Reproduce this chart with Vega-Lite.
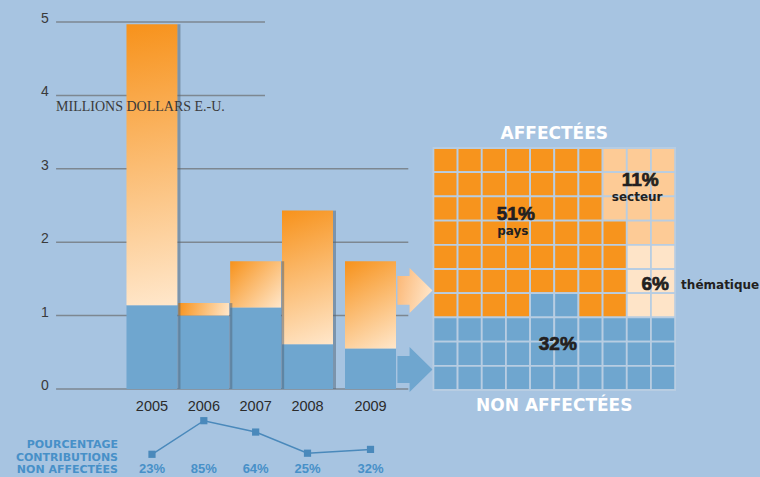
{
  "$schema": "https://vega.github.io/schema/vega-lite/v6.json",
  "width": 760,
  "height": 477,
  "autosize": {"type": "fit", "contains": "padding"},
  "padding": 0,
  "background": "#a7c4e1",
  "config": {"view": {"stroke": null}, "text": {"font": "Liberation Sans"}, "scale": {"continuousPadding": 0}},
  "datasets": {
    "bars": [
      {"year": 2005, "total": 4.97, "non_affectees": 1.14, "pct": 0.23},
      {"year": 2006, "total": 1.17, "non_affectees": 1.00, "pct": 0.85},
      {"year": 2007, "total": 1.74, "non_affectees": 1.11, "pct": 0.64},
      {"year": 2008, "total": 2.43, "non_affectees": 0.61, "pct": 0.25},
      {"year": 2009, "total": 1.74, "non_affectees": 0.55, "pct": 0.32}
    ],
    "grid": [{"v": 0}, {"v": 1}, {"v": 2}, {"v": 3}, {"v": 4}, {"v": 5}],
    "waffle": [
      {"c":1,"r":1,"cat":"pays"},{"c":2,"r":1,"cat":"pays"},{"c":3,"r":1,"cat":"pays"},{"c":4,"r":1,"cat":"pays"},{"c":5,"r":1,"cat":"pays"},{"c":6,"r":1,"cat":"pays"},{"c":7,"r":1,"cat":"pays"},{"c":8,"r":1,"cat":"secteur"},{"c":9,"r":1,"cat":"secteur"},{"c":10,"r":1,"cat":"secteur"},
      {"c":1,"r":2,"cat":"pays"},{"c":2,"r":2,"cat":"pays"},{"c":3,"r":2,"cat":"pays"},{"c":4,"r":2,"cat":"pays"},{"c":5,"r":2,"cat":"pays"},{"c":6,"r":2,"cat":"pays"},{"c":7,"r":2,"cat":"pays"},{"c":8,"r":2,"cat":"secteur"},{"c":9,"r":2,"cat":"secteur"},{"c":10,"r":2,"cat":"secteur"},
      {"c":1,"r":3,"cat":"pays"},{"c":2,"r":3,"cat":"pays"},{"c":3,"r":3,"cat":"pays"},{"c":4,"r":3,"cat":"pays"},{"c":5,"r":3,"cat":"pays"},{"c":6,"r":3,"cat":"pays"},{"c":7,"r":3,"cat":"pays"},{"c":8,"r":3,"cat":"secteur"},{"c":9,"r":3,"cat":"secteur"},{"c":10,"r":3,"cat":"secteur"},
      {"c":1,"r":4,"cat":"pays"},{"c":2,"r":4,"cat":"pays"},{"c":3,"r":4,"cat":"pays"},{"c":4,"r":4,"cat":"pays"},{"c":5,"r":4,"cat":"pays"},{"c":6,"r":4,"cat":"pays"},{"c":7,"r":4,"cat":"pays"},{"c":8,"r":4,"cat":"pays"},{"c":9,"r":4,"cat":"secteur"},{"c":10,"r":4,"cat":"secteur"},
      {"c":1,"r":5,"cat":"pays"},{"c":2,"r":5,"cat":"pays"},{"c":3,"r":5,"cat":"pays"},{"c":4,"r":5,"cat":"pays"},{"c":5,"r":5,"cat":"pays"},{"c":6,"r":5,"cat":"pays"},{"c":7,"r":5,"cat":"pays"},{"c":8,"r":5,"cat":"pays"},{"c":9,"r":5,"cat":"thématique"},{"c":10,"r":5,"cat":"thématique"},
      {"c":1,"r":6,"cat":"pays"},{"c":2,"r":6,"cat":"pays"},{"c":3,"r":6,"cat":"pays"},{"c":4,"r":6,"cat":"pays"},{"c":5,"r":6,"cat":"pays"},{"c":6,"r":6,"cat":"pays"},{"c":7,"r":6,"cat":"pays"},{"c":8,"r":6,"cat":"pays"},{"c":9,"r":6,"cat":"thématique"},{"c":10,"r":6,"cat":"thématique"},
      {"c":1,"r":7,"cat":"pays"},{"c":2,"r":7,"cat":"pays"},{"c":3,"r":7,"cat":"pays"},{"c":4,"r":7,"cat":"pays"},{"c":5,"r":7,"cat":"non affectées"},{"c":6,"r":7,"cat":"non affectées"},{"c":7,"r":7,"cat":"pays"},{"c":8,"r":7,"cat":"pays"},{"c":9,"r":7,"cat":"thématique"},{"c":10,"r":7,"cat":"thématique"},
      {"c":1,"r":8,"cat":"non affectées"},{"c":2,"r":8,"cat":"non affectées"},{"c":3,"r":8,"cat":"non affectées"},{"c":4,"r":8,"cat":"non affectées"},{"c":5,"r":8,"cat":"non affectées"},{"c":6,"r":8,"cat":"non affectées"},{"c":7,"r":8,"cat":"non affectées"},{"c":8,"r":8,"cat":"non affectées"},{"c":9,"r":8,"cat":"non affectées"},{"c":10,"r":8,"cat":"non affectées"},
      {"c":1,"r":9,"cat":"non affectées"},{"c":2,"r":9,"cat":"non affectées"},{"c":3,"r":9,"cat":"non affectées"},{"c":4,"r":9,"cat":"non affectées"},{"c":5,"r":9,"cat":"non affectées"},{"c":6,"r":9,"cat":"non affectées"},{"c":7,"r":9,"cat":"non affectées"},{"c":8,"r":9,"cat":"non affectées"},{"c":9,"r":9,"cat":"non affectées"},{"c":10,"r":9,"cat":"non affectées"},
      {"c":1,"r":10,"cat":"non affectées"},{"c":2,"r":10,"cat":"non affectées"},{"c":3,"r":10,"cat":"non affectées"},{"c":4,"r":10,"cat":"non affectées"},{"c":5,"r":10,"cat":"non affectées"},{"c":6,"r":10,"cat":"non affectées"},{"c":7,"r":10,"cat":"non affectées"},{"c":8,"r":10,"cat":"non affectées"},{"c":9,"r":10,"cat":"non affectées"},{"c":10,"r":10,"cat":"non affectées"}
    ]
  },
  "layer": [
    {
      "layer": [
        {
          "data": {"name": "grid"},
          "transform": [{"filter": "datum.v <= 3"}],
          "mark": {"type": "rule", "color": "#7d8791", "strokeWidth": 1.5},
          "encoding": {
            "x": {"datum": 2003.15, "type": "quantitative", "axis": null, "scale": {"type": "linear", "domain": [2003, 2008, 2010], "range": [48.3, 307.5, 433.5], "nice": false, "zero": false, "padding": 0}},
            "x2": {"datum": 2009.6},
            "y": {"field": "v", "type": "quantitative", "axis": null, "scale": {"domain": [-1.2, 5.3], "nice": false, "zero": false, "padding": 0}}
          }
        },
        {
          "data": {"name": "grid"},
          "transform": [{"filter": "datum.v >= 4"}],
          "mark": {"type": "rule", "color": "#7d8791", "strokeWidth": 1.5},
          "encoding": {
            "x": {"datum": 2003.15, "type": "quantitative", "axis": null, "scale": {"type": "linear", "domain": [2003, 2008, 2010], "range": [48.3, 307.5, 433.5], "nice": false, "zero": false, "padding": 0}},
            "x2": {"datum": 2007.18},
            "y": {"field": "v", "type": "quantitative", "axis": null, "scale": {"domain": [-1.2, 5.3], "nice": false, "zero": false, "padding": 0}}
          }
        },
        {
          "data": {"name": "grid"},
          "mark": {"type": "text", "align": "right", "baseline": "alphabetic", "fontSize": 14, "color": "#3a3a3a", "dy": 1},
          "encoding": {
            "x": {"datum": 2003.01, "type": "quantitative", "axis": null, "scale": {"type": "linear", "domain": [2003, 2008, 2010], "range": [48.3, 307.5, 433.5], "nice": false, "zero": false, "padding": 0}},
            "y": {"field": "v", "type": "quantitative", "axis": null, "scale": {"domain": [-1.2, 5.3], "nice": false, "zero": false, "padding": 0}},
            "text": {"field": "v", "type": "quantitative", "format": "d"}
          }
        },
        {
          "data": {"name": "bars"},
          "mark": {"type": "bar", "orient": "vertical", "width": 51, "color": "#6fa6cf"},
          "encoding": {
            "x": {"field": "year", "type": "quantitative", "axis": null, "scale": {"type": "linear", "domain": [2003, 2008, 2010], "range": [48.3, 307.5, 433.5], "nice": false, "zero": false, "padding": 0}},
            "y": {"field": "non_affectees", "type": "quantitative", "axis": null, "scale": {"domain": [-1.2, 5.3], "nice": false, "zero": false, "padding": 0}},
            "y2": {"datum": 0}
          }
        },
        {
          "data": {"name": "bars"},
          "mark": {"type": "bar", "orient": "vertical", "width": 51},
          "encoding": {
            "x": {"field": "year", "type": "quantitative", "axis": null, "scale": {"type": "linear", "domain": [2003, 2008, 2010], "range": [48.3, 307.5, 433.5], "nice": false, "zero": false, "padding": 0}},
            "y": {"field": "total", "type": "quantitative", "axis": null, "scale": {"domain": [-1.2, 5.3], "nice": false, "zero": false, "padding": 0}},
            "y2": {"field": "non_affectees"},
            "fill": {
              "condition": [
                {"test": "datum.year == 2005", "value": {"gradient": "linear", "x1": 0, "y1": 0, "x2": 0.034, "y2": 1.03, "stops": [{"offset": 0, "color": "#f7921b"}, {"offset": 1, "color": "#ffe7cb"}]}},
                {"test": "datum.year == 2006", "value": {"gradient": "linear", "x1": 0, "y1": 0, "x2": 1.056, "y2": 0.063, "stops": [{"offset": 0, "color": "#f7921b"}, {"offset": 1, "color": "#ffe7cb"}]}},
                {"test": "datum.year == 2007", "value": {"gradient": "linear", "x1": 0, "y1": 0, "x2": 1.09, "y2": 0.89, "stops": [{"offset": 0, "color": "#f7921b"}, {"offset": 1, "color": "#ffe7cb"}]}},
                {"test": "datum.year == 2008", "value": {"gradient": "linear", "x1": 0, "y1": 0, "x2": 0.16, "y2": 1.12, "stops": [{"offset": 0, "color": "#f7921b"}, {"offset": 1, "color": "#ffe7cb"}]}}
              ],
              "value": {"gradient": "linear", "x1": 0, "y1": 0, "x2": 0.41, "y2": 1.2, "stops": [{"offset": 0, "color": "#f7921b"}, {"offset": 1, "color": "#ffe7cb"}]}
            }
          }
        },
        {
          "data": {"name": "bars"},
          "transform": [{"filter": "datum.year < 2009"}],
          "mark": {"type": "bar", "orient": "vertical", "width": 3, "xOffset": 27, "color": "#4f6377", "opacity": 0.5},
          "encoding": {
            "x": {"field": "year", "type": "quantitative", "axis": null, "scale": {"type": "linear", "domain": [2003, 2008, 2010], "range": [48.3, 307.5, 433.5], "nice": false, "zero": false, "padding": 0}},
            "y": {"field": "total", "type": "quantitative", "axis": null, "scale": {"domain": [-1.2, 5.3], "nice": false, "zero": false, "padding": 0}},
            "y2": {"datum": 0}
          }
        },
        {
          "data": {"name": "bars"},
          "mark": {"type": "text", "align": "center", "baseline": "alphabetic", "fontSize": 14.5, "color": "#2b2b2b"},
          "encoding": {
            "x": {"field": "year", "type": "quantitative", "axis": null, "scale": {"type": "linear", "domain": [2003, 2008, 2010], "range": [48.3, 307.5, 433.5], "nice": false, "zero": false, "padding": 0}},
            "y": {"datum": -0.3, "type": "quantitative", "axis": null, "scale": {"domain": [-1.2, 5.3], "nice": false, "zero": false, "padding": 0}},
            "text": {"field": "year", "type": "quantitative", "format": "d"}
          }
        },
        {
          "data": {"values": [{"part": "affectées"}]},
          "mark": {"type": "point", "shape": "M-0.78,-0.64L-0.24,-0.64L-0.24,-1L0.78,0L-0.24,1L-0.24,0.64L-0.78,0.64Z", "size": 2025, "filled": true, "opacity": 1, "strokeWidth": 0,
                   "fill": {"gradient": "linear", "x1": 0, "y1": 0, "x2": 1, "y2": 0.3, "stops": [{"offset": 0, "color": "#fbb673"}, {"offset": 1, "color": "#ffe3c4"}]}},
          "encoding": {
            "x": {"datum": 2009.706, "type": "quantitative", "axis": null, "scale": {"type": "linear", "domain": [2003, 2008, 2010], "range": [48.3, 307.5, 433.5], "nice": false, "zero": false, "padding": 0}},
            "y": {"datum": 1.342, "type": "quantitative", "axis": null, "scale": {"domain": [-1.2, 5.3], "nice": false, "zero": false, "padding": 0}}
          }
        },
        {
          "data": {"values": [{"part": "non affectées"}]},
          "mark": {"type": "point", "shape": "M-0.78,-0.6L-0.24,-0.6L-0.24,-1L0.78,0L-0.24,1L-0.24,0.6L-0.78,0.6Z", "size": 2025, "filled": true, "opacity": 1, "strokeWidth": 0, "fill": "#6fa6cf"},
          "encoding": {
            "x": {"datum": 2009.706, "type": "quantitative", "axis": null, "scale": {"type": "linear", "domain": [2003, 2008, 2010], "range": [48.3, 307.5, 433.5], "nice": false, "zero": false, "padding": 0}},
            "y": {"datum": 0.266, "type": "quantitative", "axis": null, "scale": {"domain": [-1.2, 5.3], "nice": false, "zero": false, "padding": 0}}
          }
        },
        {
          "data": {"values": [{"label": "MILLIONS DOLLARS E.-U."}]},
          "mark": {"type": "text", "align": "left", "baseline": "alphabetic", "font": "Liberation Serif", "fontSize": 14, "color": "#3a3a3a"},
          "encoding": {
            "x": {"datum": 2003.15, "type": "quantitative", "axis": null, "scale": {"type": "linear", "domain": [2003, 2008, 2010], "range": [48.3, 307.5, 433.5], "nice": false, "zero": false, "padding": 0}},
            "y": {"datum": 3.792, "type": "quantitative", "axis": null, "scale": {"domain": [-1.2, 5.3], "nice": false, "zero": false, "padding": 0}},
            "text": {"field": "label"}
          }
        }
      ]
    },
    {
      "layer": [
        {
          "data": {"name": "bars"},
          "mark": {"type": "line", "color": "#4a89bb", "strokeWidth": 1.5},
          "encoding": {
            "x": {"field": "year", "type": "quantitative", "axis": null, "scale": {"type": "linear", "domain": [2003, 2008, 2010], "range": [48.3, 307.5, 433.5], "nice": false, "zero": false, "padding": 0}},
            "y": {"field": "pct", "type": "quantitative", "axis": null, "scale": {"domain": [-0.189, 8.611], "nice": false, "zero": false, "padding": 0}}
          }
        },
        {
          "data": {"name": "bars"},
          "mark": {"type": "square", "size": 52, "color": "#4a89bb", "opacity": 1},
          "encoding": {
            "x": {"field": "year", "type": "quantitative", "axis": null, "scale": {"type": "linear", "domain": [2003, 2008, 2010], "range": [48.3, 307.5, 433.5], "nice": false, "zero": false, "padding": 0}},
            "y": {"field": "pct", "type": "quantitative", "axis": null, "scale": {"domain": [-0.189, 8.611], "nice": false, "zero": false, "padding": 0}}
          }
        },
        {
          "data": {"name": "bars"},
          "mark": {"type": "text", "align": "center", "baseline": "alphabetic", "fontSize": 13, "fontWeight": "bold", "color": "#4790c8"},
          "encoding": {
            "x": {"field": "year", "type": "quantitative", "axis": null, "scale": {"type": "linear", "domain": [2003, 2008, 2010], "range": [48.3, 307.5, 433.5], "nice": false, "zero": false, "padding": 0}},
            "y": {"datum": -0.115, "type": "quantitative", "axis": null, "scale": {"domain": [-0.189, 8.611], "nice": false, "zero": false, "padding": 0}},
            "text": {"field": "pct", "type": "quantitative", "format": ".0%"}
          }
        },
        {
          "data": {"values": [{"label": "pourcentage"}]},
          "mark": {"type": "text", "align": "right", "baseline": "alphabetic", "font": "DejaVu Sans", "fontSize": 11, "fontWeight": "bold", "color": "#4790c8", "lineHeight": 12.5,
                   "text": ["POURCENTAGE", "CONTRIBUTIONS", "NON AFFECTÉES"]},
          "encoding": {
            "x": {"datum": 2004.345, "type": "quantitative", "axis": null, "scale": {"type": "linear", "domain": [2003, 2008, 2010], "range": [48.3, 307.5, 433.5], "nice": false, "zero": false, "padding": 0}},
            "y": {"datum": 0.3405, "type": "quantitative", "axis": null, "scale": {"domain": [-0.189, 8.611], "nice": false, "zero": false, "padding": 0}}
          }
        }
      ]
    },
    {
      "layer": [
        {
          "data": {"name": "waffle"},
          "mark": {"type": "point", "shape": "square", "filled": true, "size": 585, "stroke": "#b8cde2", "strokeWidth": 1.8, "opacity": 1},
          "encoding": {
            "x": {"field": "c", "type": "quantitative", "axis": null, "scale": {"domain": [-17.434, 13.971], "nice": false, "zero": false, "padding": 0}},
            "y": {"field": "r", "type": "quantitative", "axis": null, "scale": {"domain": [-5.616, 14.095], "nice": false, "zero": false, "reverse": true, "padding": 0}},
            "fill": {"field": "cat", "type": "nominal", "legend": null, "scale": {"domain": ["pays", "secteur", "thématique", "non affectées"], "range": ["#f7941d", "#fdcb96", "#fee4c8", "#6fa6cf"]}}
          }
        },
        {
          "data": {"values": [{"label": "51%"}]},
          "mark": {"type": "text", "align": "center", "baseline": "alphabetic", "fontSize": 19, "fontWeight": "bold", "color": "#231f20", "stroke": "#231f20", "strokeWidth": 0.7},
          "encoding": {
            "x": {"datum": 3.909, "type": "quantitative", "axis": null, "scale": {"domain": [-17.434, 13.971], "nice": false, "zero": false, "padding": 0}},
            "y": {"datum": 3.46, "type": "quantitative", "axis": null, "scale": {"domain": [-5.616, 14.095], "nice": false, "zero": false, "reverse": true, "padding": 0}},
            "text": {"field": "label"}
          }
        },
        {
          "data": {"values": [{"label": "pays"}]},
          "mark": {"type": "text", "align": "center", "baseline": "alphabetic", "font": "DejaVu Sans", "fontSize": 12, "fontWeight": "bold", "color": "#231f20"},
          "encoding": {
            "x": {"datum": 3.785, "type": "quantitative", "axis": null, "scale": {"domain": [-17.434, 13.971], "nice": false, "zero": false, "padding": 0}},
            "y": {"datum": 4.1, "type": "quantitative", "axis": null, "scale": {"domain": [-5.616, 14.095], "nice": false, "zero": false, "reverse": true, "padding": 0}},
            "text": {"field": "label"}
          }
        },
        {
          "data": {"values": [{"label": "11%"}]},
          "mark": {"type": "text", "align": "center", "baseline": "alphabetic", "fontSize": 19, "fontWeight": "bold", "color": "#231f20", "stroke": "#231f20", "strokeWidth": 0.7},
          "encoding": {
            "x": {"datum": 9.054, "type": "quantitative", "axis": null, "scale": {"domain": [-17.434, 13.971], "nice": false, "zero": false, "padding": 0}},
            "y": {"datum": 2.07, "type": "quantitative", "axis": null, "scale": {"domain": [-5.616, 14.095], "nice": false, "zero": false, "reverse": true, "padding": 0}},
            "text": {"field": "label"}
          }
        },
        {
          "data": {"values": [{"label": "secteur"}]},
          "mark": {"type": "text", "align": "center", "baseline": "alphabetic", "font": "DejaVu Sans", "fontSize": 12, "fontWeight": "bold", "color": "#231f20"},
          "encoding": {
            "x": {"datum": 8.93, "type": "quantitative", "axis": null, "scale": {"domain": [-17.434, 13.971], "nice": false, "zero": false, "padding": 0}},
            "y": {"datum": 2.69, "type": "quantitative", "axis": null, "scale": {"domain": [-5.616, 14.095], "nice": false, "zero": false, "reverse": true, "padding": 0}},
            "text": {"field": "label"}
          }
        },
        {
          "data": {"values": [{"label": "6%"}]},
          "mark": {"type": "text", "align": "center", "baseline": "alphabetic", "fontSize": 19, "fontWeight": "bold", "color": "#231f20", "stroke": "#231f20", "strokeWidth": 0.7},
          "encoding": {
            "x": {"datum": 9.674, "type": "quantitative", "axis": null, "scale": {"domain": [-17.434, 13.971], "nice": false, "zero": false, "padding": 0}},
            "y": {"datum": 6.368, "type": "quantitative", "axis": null, "scale": {"domain": [-5.616, 14.095], "nice": false, "zero": false, "reverse": true, "padding": 0}},
            "text": {"field": "label"}
          }
        },
        {
          "data": {"values": [{"label": "thématique"}]},
          "mark": {"type": "text", "align": "left", "baseline": "alphabetic", "font": "DejaVu Sans", "fontSize": 12, "fontWeight": "bold", "color": "#231f20"},
          "encoding": {
            "x": {"datum": 10.748, "type": "quantitative", "axis": null, "scale": {"domain": [-17.434, 13.971], "nice": false, "zero": false, "padding": 0}},
            "y": {"datum": 6.314, "type": "quantitative", "axis": null, "scale": {"domain": [-5.616, 14.095], "nice": false, "zero": false, "reverse": true, "padding": 0}},
            "text": {"field": "label"}
          }
        },
        {
          "data": {"values": [{"label": "32%"}]},
          "mark": {"type": "text", "align": "center", "baseline": "alphabetic", "fontSize": 19, "fontWeight": "bold", "color": "#231f20", "stroke": "#231f20", "strokeWidth": 0.7},
          "encoding": {
            "x": {"datum": 5.645, "type": "quantitative", "axis": null, "scale": {"domain": [-17.434, 13.971], "nice": false, "zero": false, "padding": 0}},
            "y": {"datum": 8.847, "type": "quantitative", "axis": null, "scale": {"domain": [-5.616, 14.095], "nice": false, "zero": false, "reverse": true, "padding": 0}},
            "text": {"field": "label"}
          }
        },
        {
          "data": {"values": [{"label": "AFFECTÉES"}]},
          "mark": {"type": "text", "align": "center", "baseline": "alphabetic", "font": "DejaVu Sans", "fontSize": 17, "fontWeight": "bold", "color": "#ffffff"},
          "encoding": {
            "x": {"datum": 5.5, "type": "quantitative", "axis": null, "scale": {"domain": [-17.434, 13.971], "nice": false, "zero": false, "padding": 0}},
            "y": {"datum": 0.128, "type": "quantitative", "axis": null, "scale": {"domain": [-5.616, 14.095], "nice": false, "zero": false, "reverse": true, "padding": 0}},
            "text": {"field": "label"}
          }
        },
        {
          "data": {"values": [{"label": "NON AFFECTÉES"}]},
          "mark": {"type": "text", "align": "center", "baseline": "alphabetic", "font": "DejaVu Sans", "fontSize": 17, "fontWeight": "bold", "color": "#ffffff"},
          "encoding": {
            "x": {"datum": 5.5, "type": "quantitative", "axis": null, "scale": {"domain": [-17.434, 13.971], "nice": false, "zero": false, "padding": 0}},
            "y": {"datum": 11.355, "type": "quantitative", "axis": null, "scale": {"domain": [-5.616, 14.095], "nice": false, "zero": false, "reverse": true, "padding": 0}},
            "text": {"field": "label"}
          }
        }
      ]
    }
  ],
  "resolve": {"scale": {"x": "independent", "y": "independent"}}
}
